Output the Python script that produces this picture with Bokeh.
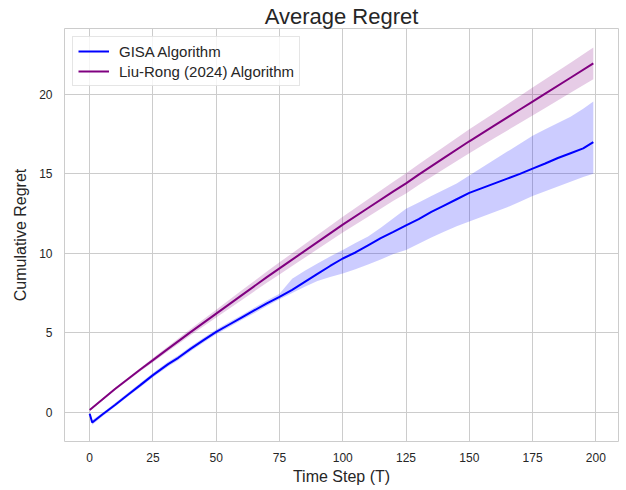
from bokeh.plotting import figure
from bokeh.models import Range1d, FixedTicker, Legend, LegendItem
from bokeh.embed import file_html
from bokeh.resources import INLINE

# ---- data ----
t_liu = [0, 10, 20, 25, 30, 40, 50, 60, 70, 75, 80, 90, 100, 110, 120, 125, 130, 140, 150, 160, 170, 175, 180, 190, 199]
liu_mean = [0.13, 1.45, 2.68, 3.27, 3.87, 5.05, 6.2, 7.35, 8.5, 9.05, 9.6, 10.7, 11.8, 12.85, 13.9, 14.4, 14.95, 16.0, 17.05, 18.05, 19.05, 19.55, 20.05, 21.05, 21.95]
liu_upper = [0.18, 1.52, 2.78, 3.40, 4.02, 5.25, 6.45, 7.65, 8.85, 9.43, 10.0, 11.15, 12.3, 13.4, 14.5, 15.03, 15.6, 16.7, 17.8, 18.85, 19.9, 20.43, 20.95, 22.0, 22.95]
liu_lower = [0.08, 1.38, 2.58, 3.14, 3.72, 4.85, 5.95, 7.05, 8.15, 8.67, 9.2, 10.25, 11.3, 12.3, 13.3, 13.77, 14.3, 15.3, 16.3, 17.25, 18.2, 18.67, 19.15, 20.1, 20.95]

t_gisa = [0, 1, 5, 10, 15, 20, 25, 31, 35, 40, 45, 50, 55, 60, 65, 70, 75, 80, 85, 90, 95, 100,
          105, 110, 115, 120, 125, 130, 135, 140, 145, 150, 155, 160, 165, 170, 175, 180, 185, 190, 195, 199]
gisa_mean = [-0.1, -0.65, -0.15, 0.45, 1.08, 1.7, 2.33, 3.02, 3.42, 4.0, 4.53, 5.05, 5.5, 5.95, 6.4, 6.85, 7.25, 7.7, 8.2, 8.7, 9.2, 9.67,
             10.05, 10.5, 10.95, 11.35, 11.76, 12.15, 12.6, 13.0, 13.4, 13.8, 14.1, 14.4, 14.7, 15.0, 15.33, 15.65, 16.0, 16.3, 16.6, 17.0]
gisa_upper = [0.0, -0.5, -0.05, 0.57, 1.2, 1.83, 2.47, 3.17, 3.57, 4.15, 4.68, 5.2, 5.65, 6.1, 6.57, 7.02, 7.45, 8.4, 8.9, 9.35, 9.8, 10.2,
              10.65, 11.05, 11.6, 12.2, 12.8, 13.2, 13.6, 14.0, 14.4, 14.9, 15.4, 15.9, 16.4, 16.9, 17.4, 17.8, 18.2, 18.6, 19.1, 19.55]
gisa_lower = [-0.2, -0.8, -0.28, 0.33, 0.96, 1.57, 2.19, 2.87, 3.27, 3.85, 4.38, 4.9, 5.35, 5.8, 6.23, 6.68, 7.1, 7.5, 7.9, 8.25, 8.5, 8.72,
              9.0, 9.3, 9.6, 9.95, 10.2, 10.6, 11.0, 11.35, 11.7, 12.0, 12.3, 12.6, 12.9, 13.25, 13.6, 13.9, 14.2, 14.5, 14.8, 15.0]

x_ticks = [0, 25, 50, 75, 100, 125, 150, 175, 200]
y_ticks = [0, 5, 10, 15, 20]

FONT = "Liberation Sans"
TXT = "#262626"
GRID = "#cccccc"

p = figure(width=622, height=488, output_backend="svg", toolbar_location=None,
           x_range=Range1d(-9.95, 208.95), y_range=Range1d(-1.85, 24.15),
           min_border_left=64, min_border_right=4, min_border_top=28, min_border_bottom=47)

p.title.text = "Average Regret"
p.title.align = "center"
p.title.text_font = FONT
p.title.text_font_size = "22px"
p.title.text_font_style = "normal"
p.title.text_color = TXT
p.title.standoff = 0

p.background_fill_color = "white"
p.border_fill_color = "white"
p.outline_line_color = GRID
p.outline_line_width = 1

p.varea(x=t_gisa, y1=gisa_lower, y2=gisa_upper, fill_color="#0000ff", fill_alpha=0.2)
p.varea(x=t_liu, y1=liu_lower, y2=liu_upper, fill_color="#800080", fill_alpha=0.2)
r1 = p.line(t_gisa, gisa_mean, line_color="#0000ff", line_width=2)
r2 = p.line(t_liu, liu_mean, line_color="#800080", line_width=2)

for ax in (p.xaxis[0], p.yaxis[0]):
    ax.axis_line_color = None
    ax.major_tick_line_color = None
    ax.minor_tick_line_color = None
    ax.major_tick_out = 0
    ax.major_tick_in = 0
    ax.major_label_text_font = FONT
    ax.major_label_text_font_size = "12px"
    ax.major_label_text_color = TXT
    ax.axis_label_text_font = FONT
    ax.axis_label_text_font_size = "16px"
    ax.axis_label_text_font_style = "normal"
    ax.axis_label_text_color = TXT

p.xaxis[0].ticker = FixedTicker(ticks=x_ticks)
p.yaxis[0].ticker = FixedTicker(ticks=y_ticks)
p.xaxis[0].axis_label = "Time Step (T)"
p.yaxis[0].axis_label = "Cumulative Regret"
p.xaxis[0].major_label_standoff = 11
p.xaxis[0].axis_label_standoff = 3
p.yaxis[0].major_label_standoff = 12
p.yaxis[0].axis_label_standoff = 7

p.xgrid.grid_line_color = GRID
p.ygrid.grid_line_color = GRID
p.xgrid.ticker = FixedTicker(ticks=x_ticks)
p.ygrid.ticker = FixedTicker(ticks=y_ticks)

legend = Legend(items=[LegendItem(label="GISA Algorithm", renderers=[r1]),
                       LegendItem(label="Liu-Rong (2024) Algorithm", renderers=[r2])],
                location="top_left")
legend.margin = 8
legend.padding = 5
legend.spacing = 2
legend.glyph_width = 31
legend.glyph_height = 18
legend.label_standoff = 10
legend.label_text_font = FONT
legend.label_text_font_size = "15px"
legend.label_text_color = TXT
legend.border_line_color = GRID
legend.background_fill_alpha = 0.8
p.add_layout(legend)

open("out.html", "w").write(file_html(p, INLINE))
